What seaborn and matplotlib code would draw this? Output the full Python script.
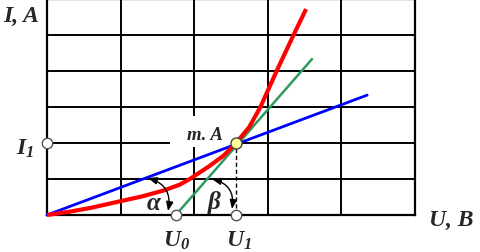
import matplotlib
matplotlib.use("Agg")
import matplotlib.pyplot as plt
from matplotlib.patches import Rectangle
import seaborn as sns

# ---- data (grid units: 5 columns x 6 rows) ----
red_x = [0, 0.3, 0.6, 0.99, 1.3, 1.6, 1.8, 1.94, 2.2, 2.4, 2.57, 2.75, 2.9, 3.12, 3.35, 3.52]
red_y = [0, 0.09, 0.2, 0.38, 0.52, 0.69, 0.84, 1.0, 1.35, 1.65, 2.0, 2.45, 3.0, 4.0, 5.0, 5.72]
blue_x = [0, 4.35]
blue_y = [0, 3.33]
green_x = [1.75, 3.6]
green_y = [0, 4.33]
point_A = (2.57, 2.0)
U0 = 1.75
U1 = 2.57
I1 = 2.0

sns.set_theme(style="white")
plt.rcParams["mathtext.fontset"] = "custom"
plt.rcParams["mathtext.rm"] = "Liberation Serif:bold:italic"
plt.rcParams["mathtext.it"] = "Liberation Serif:bold:italic"
plt.rcParams["mathtext.bf"] = "Liberation Serif:bold:italic"

W, H = 481, 253
fig = plt.figure(figsize=(W / 100, H / 100), dpi=100)
ax = fig.add_axes([47 / W, (H - 216) / H, 368 / W, 216 / H])

ax.set_xlim(0, 5)
ax.set_ylim(0, 6)
ax.set_xticks(range(6))
ax.set_yticks(range(7))
ax.tick_params(length=0, labelbottom=False, labelleft=False)
ax.grid(True, color="black", linewidth=1.4)
ax.set_axisbelow(True)
for s in ax.spines.values():
    s.set_visible(True)
    s.set_color("black")
    s.set_linewidth(1.6)
    s.set_clip_on(False)


def px(x, y):
    return ((x - 47) / 73.6, (216 - y) / 36)


# white label background that interrupts the grid
x0, y0 = px(170, 148)
x1, y1 = px(231, 117)
ax.add_patch(Rectangle((x0, y0), x1 - x0, y1 - y0, facecolor="white", edgecolor="none", zorder=1.5))

sns.lineplot(x=blue_x, y=blue_y, ax=ax, color="#0000ff", linewidth=2.0, zorder=3, clip_on=False)
sns.lineplot(x=green_x, y=green_y, ax=ax, color="#2e9a5c", linewidth=1.8, zorder=3, clip_on=False)
sns.lineplot(x=red_x, y=red_y, ax=ax, color="#ff0000", linewidth=3.0, zorder=4,
             sort=False, estimator=None, clip_on=False,
             solid_joinstyle="round", solid_capstyle="butt")

# dashed drop line from A to U1
ax.plot([U1, U1], [0, point_A[1]], color="black", linewidth=1.0, linestyle=(0, (3, 2)), zorder=3)

# markers
ax.plot([0, U0, U1], [I1, 0, 0], linestyle="none", marker="o", markersize=7.5,
        markerfacecolor="white", markeredgecolor="#555555", markeredgewidth=1.0,
        zorder=6, clip_on=False)
ax.plot([point_A[0]], [point_A[1]], linestyle="none", marker="o", markersize=8,
        markerfacecolor="#ffff99", markeredgecolor="#444444", markeredgewidth=1.0,
        zorder=7, clip_on=False)

# angle arcs
for (s, e) in [((148, 179), (168, 212)), ((212, 180), (232, 210))]:
    ax.annotate("", xy=px(*e), xytext=px(*s),
                arrowprops=dict(arrowstyle="<|-|>,head_length=0.45,head_width=0.18",
                                connectionstyle="arc3,rad=-0.45", color="black",
                                linewidth=1.0, shrinkA=0, shrinkB=0),
                zorder=8)

font = dict(family="Liberation Serif", fontweight="bold", fontstyle="italic")


def ftext(x, y, s, size=17, **kw):
    fig.text(x / W, 1 - y / H, s, ha="center", va="center", fontsize=size, **font, **kw)


ftext(21, 16, "I, A")
ftext(451, 220, "U, B")
ftext(25, 149, r"$I_1$")
ftext(177, 241, r"$U_0$")
ftext(239, 241, r"$U_1$")
ftext(154, 204, "α", size=18)
ftext(214, 203, "β", size=18)
ftext(205, 135, "m. A", size=13.5)

fig.savefig("out.png", dpi=100)
